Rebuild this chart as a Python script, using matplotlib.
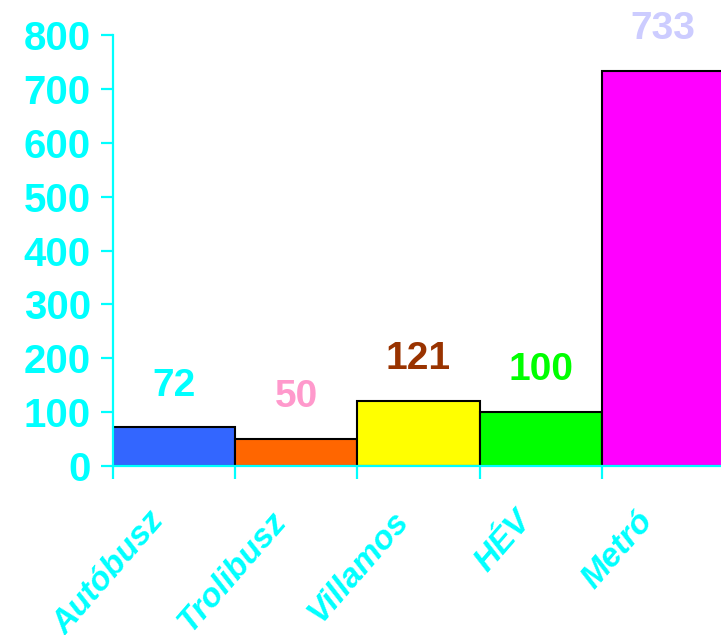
import matplotlib
matplotlib.use("Agg")
import matplotlib.pyplot as plt
import matplotlib.transforms as mtransforms

categories = ["Autóbusz", "Trolibusz", "Villamos", "HÉV", "Metró"]
values = [72, 50, 121, 100, 733]
bar_colors = ["#3366FF", "#FF6600", "#FFFF00", "#00FF00", "#FF00FF"]
label_colors = ["#00FFFF", "#FF99CC", "#993300", "#00FF00", "#CCCCFF"]
yticks = [0, 100, 200, 300, 400, 500, 600, 700, 800]

FONT = ["Liberation Sans", "DejaVu Sans"]
CYAN = "#00FFFF"
fig = plt.figure(figsize=(7.21, 6.35), dpi=100)
ax = fig.add_axes([113/721, 169/635, 611/721, 431/635])

x = list(range(len(categories)))
ax.bar(x, values, width=1.0, color=bar_colors, edgecolor="black", linewidth=1.5, zorder=1)
ax.set_xlim(-0.5, len(categories) - 0.5)
ax.set_ylim(0, 800)

for xi, v, c in zip(x, values, label_colors):
    ax.annotate(str(v), (xi, v), xytext=(0, 30), textcoords="offset points",
                ha="center", va="center", color=c, fontsize=28,
                fontweight="bold", family=FONT, clip_on=False)

for s in ["top", "right"]:
    ax.spines[s].set_visible(False)
for s in ["left", "bottom"]:
    ax.spines[s].set_color(CYAN)
    ax.spines[s].set_linewidth(1.6)
    ax.spines[s].set_zorder(3)

ax.set_yticks(yticks)
ax.set_yticklabels([str(t) for t in yticks], color=CYAN, fontsize=29,
                   fontweight="bold", family=FONT)
ax.tick_params(axis="y", direction="out", length=9, width=1.6, color=CYAN, pad=7)

ax.set_xticks([i - 0.5 for i in x], minor=True)
ax.set_xticks(x)
ax.set_xticklabels(categories, rotation=49, ha="right", va="center",
                   rotation_mode="anchor", color=CYAN, fontsize=24,
                   fontweight="bold", fontstyle="italic", family=FONT)
ax.tick_params(axis="x", which="major", length=0, pad=36)
ax.tick_params(axis="x", which="minor", direction="out", length=9, width=1.6, color=CYAN)

offset = mtransforms.ScaledTranslation(-15/100, 0, fig.dpi_scale_trans)
for lab in ax.get_xticklabels():
    lab.set_transform(lab.get_transform() + offset)

fig.savefig("out.png", dpi=100)
